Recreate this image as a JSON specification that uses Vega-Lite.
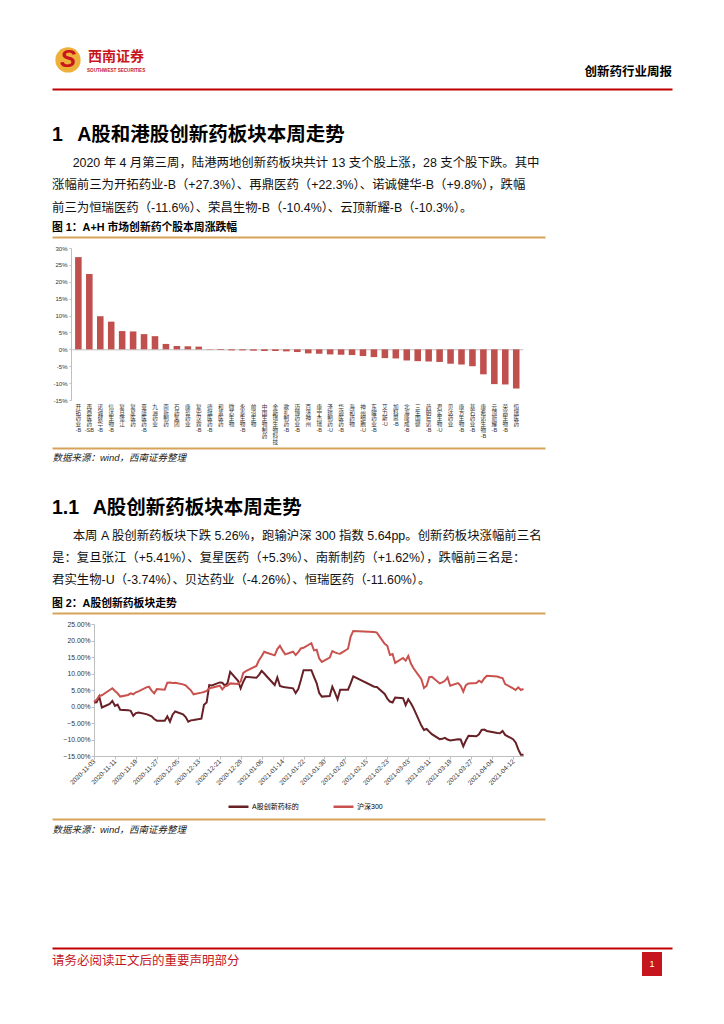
{
  "$schema": "https://vega.github.io/schema/vega-lite/v6.json",
  "background": "white",
  "padding": {"left": 52, "top": 45, "right": 52, "bottom": 30},
  "bounds": "flush",
  "spacing": 0,
  "config": {
    "view": {"stroke": null},
    "font": "Liberation Sans, Noto Sans CJK SC",
    "axis": {"labelColor": "#333", "grid": false},
    "title": {"color": "#000"}
  },
  "vconcat": [
    {
      "width": 620, "height": 44,
      "data": {"values": [{}]},
      "layer": [
        {"mark": {"type": "point", "shape": "circle", "filled": true, "size": 640, "color": "#efb03a", "opacity": 1},
         "encoding": {"x": {"datum": 0.0258, "type": "quantitative", "scale": {"domain": [0, 1]}, "axis": null},
                      "y": {"datum": 0.66, "type": "quantitative", "scale": {"domain": [0, 1]}, "axis": null}}},
        {"mark": {"type": "text", "text": "S", "fontSize": 24, "fontWeight": "bold", "fontStyle": "italic", "color": "#c8161d", "align": "center", "baseline": "middle"},
         "encoding": {"x": {"datum": 0.0258, "type": "quantitative", "scale": {"domain": [0, 1]}, "axis": null},
                      "y": {"datum": 0.66, "type": "quantitative", "scale": {"domain": [0, 1]}, "axis": null}}},
        {"mark": {"type": "text", "text": "西南证券", "fontSize": 14, "fontWeight": "bold", "color": "#c8161d", "align": "left", "baseline": "middle", "font": "Noto Sans CJK SC"},
         "encoding": {"x": {"datum": 0.058, "type": "quantitative", "scale": {"domain": [0, 1]}, "axis": null},
                      "y": {"datum": 0.735, "type": "quantitative", "scale": {"domain": [0, 1]}, "axis": null}}},
        {"mark": {"type": "text", "text": "SOUTHWEST SECURITIES", "fontSize": 4.6, "fontWeight": "bold", "color": "#c8161d", "align": "left", "baseline": "middle"},
         "encoding": {"x": {"datum": 0.0565, "type": "quantitative", "scale": {"domain": [0, 1]}, "axis": null},
                      "y": {"datum": 0.42, "type": "quantitative", "scale": {"domain": [0, 1]}, "axis": null}}},
        {"mark": {"type": "text", "text": "创新药行业周报", "fontSize": 12.5, "fontWeight": "bold", "color": "#000", "align": "right", "baseline": "middle", "font": "Noto Sans CJK SC"},
         "encoding": {"x": {"datum": 1, "type": "quantitative", "scale": {"domain": [0, 1]}, "axis": null},
                      "y": {"datum": 0.386, "type": "quantitative", "scale": {"domain": [0, 1]}, "axis": null}}}
      ]
    },
    {
      "width": 620, "height": 128,
      "data": {"values": [{"v": 0}]},
      "mark": {"type": "text", "text": ""},
      "encoding": {"x": {"field": "v", "type": "quantitative", "scale": {"domain": [0, 1]},
        "axis": {"orient": "top", "domainColor": "#c00000", "domainWidth": 2, "ticks": false, "labels": false, "title": null}}}
    },
    {
      "width": 493, "height": 19.5,
      "data": {"values": [{"v": 0}]},
      "mark": {"type": "text", "text": ""},
      "title": {
        "text": "1\u2002 A股和港股创新药板块本周走势",
        "subtitle": [
          "\u200b\u00a0\u00a0\u00a0\u00a0\u00a0\u00a02020 年 4 月第三周，陆港两地创新药板块共计 13 支个股上涨，28 支个股下跌。其中",
          "涨幅前三为开拓药业-B（+27.3%）、再鼎医药（+22.3%）、诺诚健华-B（+9.8%），跌幅",
          "前三为恒瑞医药（-11.6%）、荣昌生物-B（-10.4%）、云顶新耀-B（-10.3%）。"
        ],
        "anchor": "start", "frame": "group", "fontSize": 19.5, "fontWeight": "bold", "color": "#000",
        "subtitleFontSize": 12.4, "subtitleColor": "#111", "subtitleLineHeight": 22.5, "subtitlePadding": 11, "offset": 2
      }
    },
    {
      "width": 493, "height": 10.5,
      "data": {"values": [{"v": 0}]},
      "mark": {"type": "text", "text": ""},
      "title": {"text": "图 1：A+H 市场创新药个股本周涨跌幅", "anchor": "start", "frame": "group", "fontSize": 10.8, "fontWeight": "bold", "offset": 3},
      "encoding": {"x": {"field": "v", "type": "quantitative", "scale": {"domain": [0, 1]},
        "axis": {"orient": "top", "domainColor": "#d7a35a", "domainWidth": 2, "ticks": false, "labels": false, "title": null}}}
    },
    {
      "width": 493, "height": 152,
      "data": {"values": [
        {"name": "开拓药业-B", "v": 27.3}, {"name": "再鼎医药-SB", "v": 22.3}, {"name": "诺诚健华-B", "v": 9.8},
        {"name": "信达生物-B", "v": 8.2}, {"name": "复旦张江", "v": 5.4}, {"name": "复星医药", "v": 5.3},
        {"name": "亚盛医药-B", "v": 4.5}, {"name": "九洲药业", "v": 3.9}, {"name": "南新制药", "v": 1.6},
        {"name": "石药集团", "v": 1.0}, {"name": "康哲药业", "v": 0.9}, {"name": "复宏汉霖-B", "v": 0.8},
        {"name": "德琪医药-B", "v": 0.1}, {"name": "和黄医药", "v": -0.2}, {"name": "微芯生物", "v": -0.3},
        {"name": "永泰生物-B", "v": -0.3}, {"name": "前沿生物", "v": -0.4}, {"name": "中国生物制药", "v": -0.5},
        {"name": "金斯瑞生物科技", "v": -0.5}, {"name": "歌礼制药-B", "v": -0.6}, {"name": "迈博药业-B", "v": -0.8},
        {"name": "百济神州", "v": -1.2}, {"name": "康宁杰瑞-B", "v": -1.3}, {"name": "泽璟制药-U", "v": -1.5},
        {"name": "华领医药-B", "v": -1.6}, {"name": "海和药物", "v": -1.7}, {"name": "神州细胞-U", "v": -2.0},
        {"name": "东曜药业-B", "v": -2.3}, {"name": "艾力斯-U", "v": -2.6}, {"name": "加科思-B", "v": -2.7},
        {"name": "北海康成-B", "v": -3.3}, {"name": "三生国健", "v": -3.5}, {"name": "药明巨诺-B", "v": -3.6},
        {"name": "君实生物-U", "v": -3.74}, {"name": "贝达药业", "v": -4.26}, {"name": "康方生物-B", "v": -4.5},
        {"name": "基石药业-B", "v": -5.0}, {"name": "康希诺生物-B", "v": -7.4}, {"name": "云顶新耀-B", "v": -10.3},
        {"name": "荣昌生物-B", "v": -10.4}, {"name": "恒瑞医药", "v": -11.6}
      ]},
      "mark": {"type": "bar", "color": "#c0504d"},
      "encoding": {
        "x": {"field": "name", "type": "nominal", "sort": null,
          "scale": {"range": [19.8, 470.8], "paddingInner": 0.4, "paddingOuter": 0.3},
          "axis": {"orient": "bottom", "offset": -50.7, "domainColor": "#bfbfbf", "domainWidth": 1, "ticks": false,
            "labelAngle": 0, "labelAlign": "center", "labelBaseline": "top", "labelPadding": 55,
            "labelFontSize": 5.6, "labelLineHeight": 5.8, "labelOverlap": false, "labelBound": false,
            "labelExpr": "split(replace(datum.label, regexp('([\\u4e00-\\u9fff])', 'g'), '$1|'), '|')",
            "title": null}},
        "y": {"field": "v", "type": "quantitative", "scale": {"domain": [-15, 30], "nice": false},
          "axis": {"values": [-15, -10, -5, 0, 5, 10, 15, 20, 25, 30], "labelExpr": "datum.value + '%'",
            "offset": -19, "domainColor": "#bfbfbf", "tickColor": "#bfbfbf", "tickSize": 2,
            "labelFontSize": 6, "labelPadding": 2, "title": null}}
      }
    },
    {
      "width": 493, "height": 48,
      "data": {"values": [{"v": 0}]},
      "mark": {"type": "text", "text": ""},
      "encoding": {"x": {"field": "v", "type": "quantitative", "scale": {"domain": [0, 1]},
        "axis": {"orient": "bottom", "domainColor": "#d7a35a", "domainWidth": 2, "ticks": false, "labels": false,
          "title": "数据来源：wind，西南证券整理", "titleAnchor": "start", "titleAlign": "left", "titleFontStyle": "italic",
          "titleFontWeight": "normal", "titleFontSize": 9.5, "titleColor": "#222", "titlePadding": 4}}}
    },
    {
      "width": 493, "height": 141,
      "data": {"values": [{"v": 0}]},
      "mark": {"type": "text", "text": ""}
    },
    {
      "width": 493, "height": 24,
      "data": {"values": [{"v": 0}]},
      "mark": {"type": "text", "text": ""},
      "title": {
        "text": "1.1\u2002\u2009A股创新药板块本周走势",
        "subtitle": [
          "\u200b\u00a0\u00a0\u00a0\u00a0\u00a0\u00a0本周 A 股创新药板块下跌 5.26%，跑输沪深 300 指数 5.64pp。创新药板块涨幅前三名",
          "是：复旦张江（+5.41%）、复星医药（+5.3%）、南新制药（+1.62%），跌幅前三名是：",
          "君实生物-U（-3.74%）、贝达药业（-4.26%）、恒瑞医药（-11.60%）。"
        ],
        "anchor": "start", "frame": "group", "fontSize": 19.5, "fontWeight": "bold", "color": "#000",
        "subtitleFontSize": 12.4, "subtitleColor": "#111", "subtitleLineHeight": 22, "subtitlePadding": 11, "offset": 2
      }
    },
    {
      "width": 493, "height": 11,
      "data": {"values": [{"v": 0}]},
      "mark": {"type": "text", "text": ""},
      "title": {"text": "图 2：A股创新药板块走势", "anchor": "start", "frame": "group", "fontSize": 10.8, "fontWeight": "bold", "offset": 4},
      "encoding": {"x": {"field": "v", "type": "quantitative", "scale": {"domain": [0, 1]},
        "axis": {"orient": "top", "domainColor": "#d7a35a", "domainWidth": 2, "ticks": false, "labels": false, "title": null}}}
    },
    {
      "width": 493, "height": 132,
      "data": {"values": [
        {"d": "2020-11-03", "A股创新药标的": 1.2, "沪深300": 1.4},
        {"d": "2020-11-04", "A股创新药标的": 1.3, "沪深300": 2.0},
        {"d": "2020-11-05", "A股创新药标的": 3.0, "沪深300": 3.2},
        {"d": "2020-11-06", "A股创新药标的": -0.3, "沪深300": 3.4},
        {"d": "2020-11-09", "A股创新药标的": 0.8, "沪深300": 5.0},
        {"d": "2020-11-10", "A股创新药标的": 1.7, "沪深300": 5.5},
        {"d": "2020-11-11", "A股创新药标的": 0.2, "沪深300": 4.7},
        {"d": "2020-11-12", "A股创新药标的": 0.6, "沪深300": 4.0},
        {"d": "2020-11-13", "A股创新药标的": -1.0, "沪深300": 3.0},
        {"d": "2020-11-16", "A股创新药标的": -1.1, "沪深300": 3.5},
        {"d": "2020-11-17", "A股创新药标的": -1.3, "沪深300": 4.0},
        {"d": "2020-11-18", "A股创新药标的": -2.8, "沪深300": 3.7},
        {"d": "2020-11-19", "A股创新药标的": -2.0, "沪深300": 4.3},
        {"d": "2020-11-20", "A股创新药标的": -1.8, "沪深300": 4.6},
        {"d": "2020-11-23", "A股创新药标的": -2.3, "沪深300": 5.8},
        {"d": "2020-11-24", "A股创新药标的": -2.6, "沪深300": 6.0},
        {"d": "2020-11-25", "A股创新药标的": -3.0, "沪深300": 4.8},
        {"d": "2020-11-26", "A股创新药标的": -3.8, "沪深300": 4.0},
        {"d": "2020-11-27", "A股创新药标的": -4.3, "沪深300": 5.3},
        {"d": "2020-11-30", "A股创新药标的": -4.3, "沪深300": 5.1},
        {"d": "2020-12-01", "A股创新药标的": -3.0, "沪深300": 7.2},
        {"d": "2020-12-02", "A股创新药标的": -4.6, "沪深300": 7.3},
        {"d": "2020-12-03", "A股创新药标的": -2.5, "沪深300": 7.1},
        {"d": "2020-12-04", "A股创新药标的": -1.5, "沪深300": 7.2},
        {"d": "2020-12-07", "A股创新药标的": -2.4, "沪深300": 6.7},
        {"d": "2020-12-08", "A股创新药标的": -3.2, "沪深300": 6.4},
        {"d": "2020-12-09", "A股创新药标的": -4.6, "沪深300": 5.6},
        {"d": "2020-12-10", "A股创新药标的": -4.2, "沪深300": 4.9},
        {"d": "2020-12-11", "A股创新药标的": -4.1, "沪深300": 3.7},
        {"d": "2020-12-14", "A股创新药标的": -3.7, "沪深300": 4.2},
        {"d": "2020-12-15", "A股创新药标的": 0.5, "沪深300": 4.4},
        {"d": "2020-12-16", "A股创新药标的": 1.2, "沪深300": 4.7},
        {"d": "2020-12-17", "A股创新药标的": 6.5, "沪深300": 5.5},
        {"d": "2020-12-18", "A股创新药标的": 6.4, "沪深300": 5.7},
        {"d": "2020-12-21", "A股创新药标的": 7.3, "沪深300": 6.3},
        {"d": "2020-12-22", "A股创新药标的": 7.2, "沪深300": 5.2},
        {"d": "2020-12-23", "A股创新药标的": 6.3, "沪深300": 6.1},
        {"d": "2020-12-24", "A股创新药标的": 7.1, "沪深300": 6.3},
        {"d": "2020-12-25", "A股创新药标的": 10.5, "沪深300": 7.0},
        {"d": "2020-12-28", "A股创新药标的": 7.8, "沪深300": 6.8},
        {"d": "2020-12-29", "A股创新药标的": 5.5, "沪深300": 7.6},
        {"d": "2020-12-30", "A股创新药标的": 7.5, "沪深300": 10.2},
        {"d": "2020-12-31", "A股创新药标的": 9.0, "沪深300": 10.7},
        {"d": "2021-01-04", "A股创新药标的": 8.7, "沪深300": 12.3},
        {"d": "2021-01-05", "A股创新药标的": 9.6, "沪深300": 14.0},
        {"d": "2021-01-06", "A股创新药标的": 10.8, "沪深300": 15.2},
        {"d": "2021-01-07", "A股创新药标的": 10.0, "沪深300": 16.6},
        {"d": "2021-01-08", "A股创新药标的": 9.1, "沪深300": 16.3},
        {"d": "2021-01-11", "A股创新药标的": 6.5, "沪深300": 15.5},
        {"d": "2021-01-12", "A股创新药标的": 8.8, "沪深300": 17.4},
        {"d": "2021-01-13", "A股创新药标的": 6.2, "沪深300": 18.4},
        {"d": "2021-01-14", "A股创新药标的": 6.0, "沪深300": 17.0},
        {"d": "2021-01-15", "A股创新药标的": 5.8, "沪深300": 15.8},
        {"d": "2021-01-18", "A股创新药标的": 5.5, "沪深300": 16.6},
        {"d": "2021-01-19", "A股创新药标的": 4.1, "沪深300": 15.6},
        {"d": "2021-01-20", "A股创新药标的": 5.3, "沪深300": 16.5},
        {"d": "2021-01-21", "A股创新药标的": 8.0, "沪深300": 17.6},
        {"d": "2021-01-22", "A股创新药标的": 11.0, "沪深300": 17.8},
        {"d": "2021-01-25", "A股创新药标的": 11.0, "沪深300": 19.2},
        {"d": "2021-01-26", "A股创新药标的": 9.0, "沪深300": 17.0},
        {"d": "2021-01-27", "A股创新药标的": 7.1, "沪深300": 17.2},
        {"d": "2021-01-28", "A股创新药标的": 4.1, "沪深300": 14.5},
        {"d": "2021-01-29", "A股创新药标的": 3.0, "沪深300": 13.5},
        {"d": "2021-02-01", "A股创新药标的": 3.2, "沪深300": 14.8},
        {"d": "2021-02-02", "A股创新药标的": 6.0, "沪深300": 16.8},
        {"d": "2021-02-03", "A股创新药标的": 4.2, "沪深300": 16.4},
        {"d": "2021-02-04", "A股创新药标的": 2.2, "沪深300": 16.1},
        {"d": "2021-02-05", "A股创新药标的": 5.1, "沪深300": 16.0},
        {"d": "2021-02-08", "A股创新药标的": 5.1, "沪深300": 17.5},
        {"d": "2021-02-09", "A股创新药标的": 7.0, "沪深300": 21.2},
        {"d": "2021-02-10", "A股创新药标的": 9.1, "沪深300": 22.9},
        {"d": "2021-02-18", "A股创新药标的": 6.0, "沪深300": 22.6},
        {"d": "2021-02-19", "A股创新药标的": 5.9, "沪深300": 22.4},
        {"d": "2021-02-22", "A股创新药标的": 3.8, "沪深300": 19.0},
        {"d": "2021-02-23", "A股创新药标的": 2.4, "沪深300": 18.4},
        {"d": "2021-02-24", "A股创新药标的": 1.5, "沪深300": 15.6},
        {"d": "2021-02-25", "A股创新药标的": 1.2, "沪深300": 15.9},
        {"d": "2021-02-26", "A股创新药标的": 2.7, "沪深300": 13.2},
        {"d": "2021-03-01", "A股创新药标的": 2.5, "沪深300": 14.7},
        {"d": "2021-03-02", "A股创新药标的": 0.4, "沪深300": 13.9},
        {"d": "2021-03-03", "A股创新药标的": 2.2, "沪深300": 15.3},
        {"d": "2021-03-04", "A股创新药标的": 1.0, "沪深300": 13.0},
        {"d": "2021-03-05", "A股创新药标的": -0.5, "沪深300": 11.6},
        {"d": "2021-03-08", "A股创新药标的": -5.8, "沪深300": 8.3},
        {"d": "2021-03-09", "A股创新药标的": -7.1, "沪深300": 5.6},
        {"d": "2021-03-10", "A股创新药标的": -6.8, "沪深300": 6.3},
        {"d": "2021-03-11", "A股创新药标的": -7.6, "沪深300": 8.9},
        {"d": "2021-03-12", "A股创新药标的": -8.4, "沪深300": 9.0},
        {"d": "2021-03-15", "A股创新药标的": -9.9, "沪深300": 7.0},
        {"d": "2021-03-16", "A股创新药标的": -9.8, "沪深300": 7.3},
        {"d": "2021-03-17", "A股创新药标的": -9.5, "沪深300": 7.8},
        {"d": "2021-03-18", "A股创新药标的": -10.0, "沪深300": 8.8},
        {"d": "2021-03-19", "A股创新药标的": -10.3, "沪深300": 6.3},
        {"d": "2021-03-22", "A股创新药标的": -9.9, "沪深300": 7.1},
        {"d": "2021-03-23", "A股创新药标的": -10.0, "沪深300": 6.3},
        {"d": "2021-03-24", "A股创新药标的": -12.1, "沪深300": 4.5},
        {"d": "2021-03-25", "A股创新药标的": -10.3, "沪深300": 6.5},
        {"d": "2021-03-26", "A股创新药标的": -8.9, "沪深300": 7.0},
        {"d": "2021-03-29", "A股创新药标的": -9.0, "沪深300": 7.1},
        {"d": "2021-03-30", "A股创新药标的": -8.4, "沪深300": 7.8},
        {"d": "2021-03-31", "A股创新药标的": -7.1, "沪深300": 7.3},
        {"d": "2021-04-01", "A股创新药标的": -7.0, "沪深300": 8.5},
        {"d": "2021-04-02", "A股创新药标的": -7.4, "沪深300": 9.3},
        {"d": "2021-04-06", "A股创新药标的": -8.0, "沪深300": 9.1},
        {"d": "2021-04-07", "A股创新药标的": -8.1, "沪深300": 8.8},
        {"d": "2021-04-08", "A股创新药标的": -7.4, "沪深300": 8.6},
        {"d": "2021-04-09", "A股创新药标的": -8.6, "沪深300": 6.8},
        {"d": "2021-04-12", "A股创新药标的": -9.9, "沪深300": 5.5},
        {"d": "2021-04-13", "A股创新药标的": -10.9, "沪深300": 5.0},
        {"d": "2021-04-14", "A股创新药标的": -13.0, "沪深300": 5.8},
        {"d": "2021-04-15", "A股创新药标的": -14.6, "沪深300": 5.0},
        {"d": "2021-04-16", "A股创新药标的": -14.6, "沪深300": 5.3}
      ]},
      "transform": [{"fold": ["A股创新药标的", "沪深300"], "as": ["s", "v"]}],
      "mark": {"type": "line", "strokeWidth": 2},
      "encoding": {
        "x": {"field": "d", "type": "temporal",
          "scale": {"type": "utc", "nice": false, "range": [42, 471.5],
            "domain": [{"year": 2020, "month": 11, "date": 3, "utc": true}, {"year": 2021, "month": 4, "date": 16, "utc": true}]},
          "axis": {"values": [
              {"year": 2020, "month": 11, "date": 3, "utc": true}, {"year": 2020, "month": 11, "date": 11, "utc": true},
              {"year": 2020, "month": 11, "date": 19, "utc": true}, {"year": 2020, "month": 11, "date": 27, "utc": true},
              {"year": 2020, "month": 12, "date": 5, "utc": true}, {"year": 2020, "month": 12, "date": 13, "utc": true},
              {"year": 2020, "month": 12, "date": 21, "utc": true}, {"year": 2020, "month": 12, "date": 29, "utc": true},
              {"year": 2021, "month": 1, "date": 6, "utc": true}, {"year": 2021, "month": 1, "date": 14, "utc": true},
              {"year": 2021, "month": 1, "date": 22, "utc": true}, {"year": 2021, "month": 1, "date": 30, "utc": true},
              {"year": 2021, "month": 2, "date": 7, "utc": true}, {"year": 2021, "month": 2, "date": 15, "utc": true},
              {"year": 2021, "month": 2, "date": 23, "utc": true}, {"year": 2021, "month": 3, "date": 3, "utc": true},
              {"year": 2021, "month": 3, "date": 11, "utc": true}, {"year": 2021, "month": 3, "date": 19, "utc": true},
              {"year": 2021, "month": 3, "date": 27, "utc": true}, {"year": 2021, "month": 4, "date": 4, "utc": true},
              {"year": 2021, "month": 4, "date": 12, "utc": true}],
            "labelExpr": "utcFormat(datum.value, '%Y-%m-%d')", "labelAngle": -45, "labelAlign": "right", "labelBaseline": "middle",
            "labelFontSize": 6.5, "labelPadding": 1, "labelOverlap": false, "labelBound": false,
            "domainColor": "#bfbfbf", "tickColor": "#bfbfbf", "tickSize": 3, "title": null}},
        "y": {"field": "v", "type": "quantitative", "scale": {"domain": [-15, 25], "nice": false},
          "axis": {"values": [-15, -10, -5, 0, 5, 10, 15, 20, 25], "labelExpr": "format(datum.value, '.2f') + '%'",
            "offset": -42, "domainColor": "#bfbfbf", "tickColor": "#bfbfbf", "tickSize": 3,
            "labelFontSize": 6.8, "labelPadding": 1, "title": null}},
        "color": {"field": "s", "type": "nominal",
          "scale": {"domain": ["A股创新药标的", "沪深300"], "range": ["#662026", "#c9524f"]},
          "legend": {"orient": "none", "legendX": 175, "legendY": 750, "direction": "horizontal", "title": null,
            "symbolType": "stroke", "symbolSize": 400, "symbolStrokeWidth": 2.5, "labelFontSize": 7,
            "columnPadding": 29, "labelOffset": 2}}
      }
    },
    {
      "width": 493, "height": 63,
      "data": {"values": [{"v": 0}]},
      "mark": {"type": "text", "text": ""},
      "encoding": {"x": {"field": "v", "type": "quantitative", "scale": {"domain": [0, 1]},
        "axis": {"orient": "bottom", "domainColor": "#d7a35a", "domainWidth": 2, "ticks": false, "labels": false,
          "title": "数据来源：wind，西南证券整理", "titleAnchor": "start", "titleAlign": "left", "titleFontStyle": "italic",
          "titleFontWeight": "normal", "titleFontSize": 9.5, "titleColor": "#222", "titlePadding": 5}}}
    },
    {
      "width": 620, "height": 129,
      "data": {"values": [{"v": 0}]},
      "mark": {"type": "text", "text": ""},
      "encoding": {"x": {"field": "v", "type": "quantitative", "scale": {"domain": [0, 1]},
        "axis": {"orient": "bottom", "domainColor": "#c00000", "domainWidth": 2, "ticks": false, "labels": false, "title": null}}}
    },
    {
      "width": 620, "height": 30,
      "data": {"values": [{}]},
      "layer": [
        {"mark": {"type": "rect", "color": "#c4161c"},
         "encoding": {"x": {"datum": 0.9516, "type": "quantitative", "scale": {"domain": [0, 1]}, "axis": null},
                      "x2": {"datum": 0.9839},
                      "y": {"datum": 0.867, "type": "quantitative", "scale": {"domain": [0, 1]}, "axis": null},
                      "y2": {"datum": 0.067}}},
        {"mark": {"type": "text", "text": "1", "color": "#fff", "fontSize": 9, "align": "center", "baseline": "middle"},
         "encoding": {"x": {"datum": 0.9677, "type": "quantitative", "scale": {"domain": [0, 1]}, "axis": null},
                      "y": {"datum": 0.467, "type": "quantitative", "scale": {"domain": [0, 1]}, "axis": null}}},
        {"mark": {"type": "text", "text": "请务必阅读正文后的重要声明部分", "color": "#c4161c", "fontSize": 12.5, "align": "left", "baseline": "middle", "font": "Noto Sans CJK SC"},
         "encoding": {"x": {"datum": 0, "type": "quantitative", "scale": {"domain": [0, 1]}, "axis": null},
                      "y": {"datum": 0.567, "type": "quantitative", "scale": {"domain": [0, 1]}, "axis": null}}}
      ]
    }
  ]
}
